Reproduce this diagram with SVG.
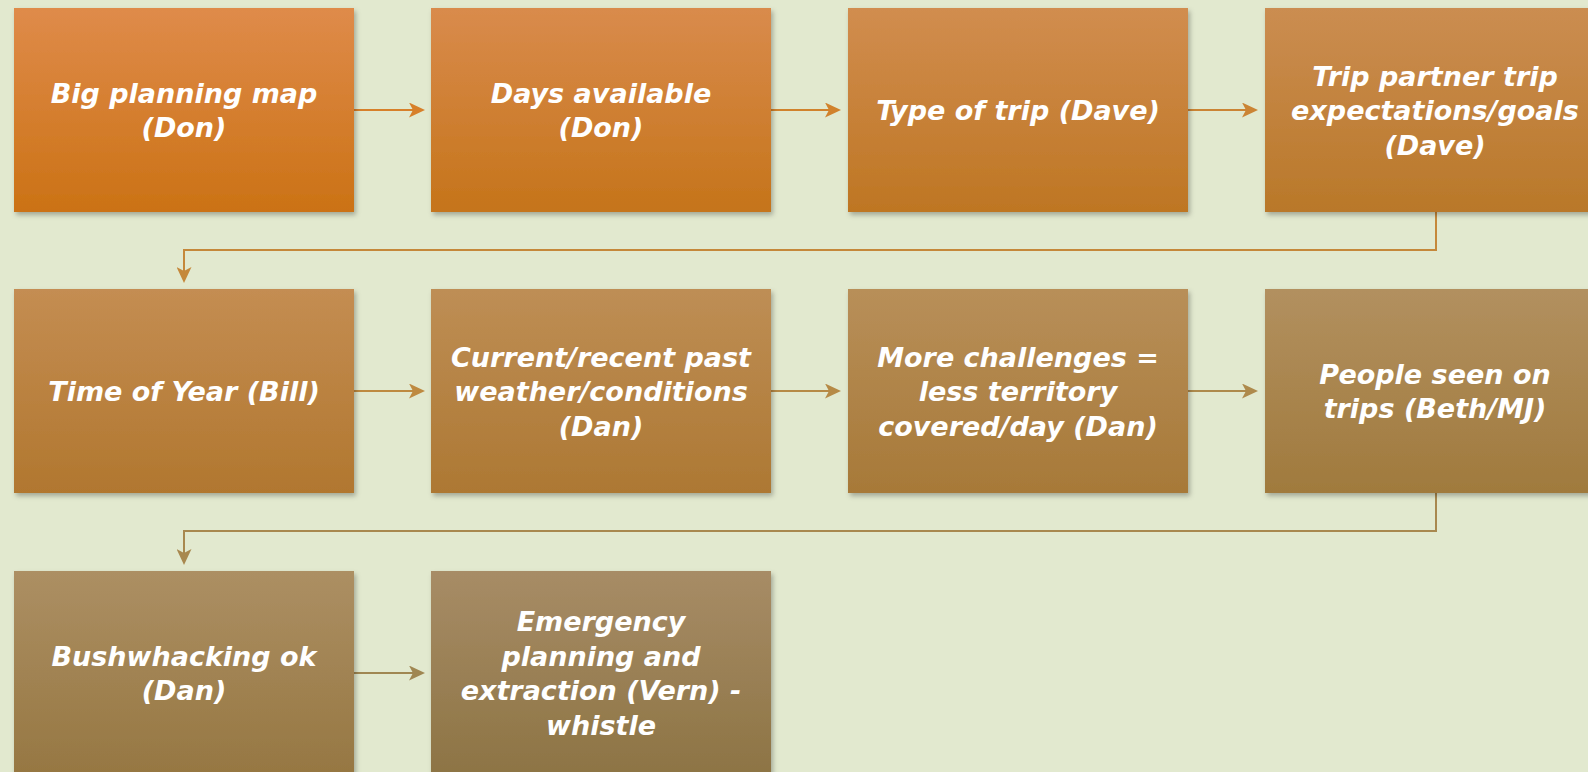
<svg xmlns="http://www.w3.org/2000/svg" width="1588" height="772" viewBox="0 0 1588 772">
<defs>
<style>
.box{filter:url(#sh)}
.t{font-family:"DejaVu Sans","Liberation Sans",sans-serif;font-weight:bold;font-style:italic;font-size:27px;fill:#ffffff;text-anchor:middle}
.c{fill:none;stroke-width:2}
</style>
<filter id="sh" x="-5%" y="-5%" width="112%" height="115%">
<feDropShadow dx="2" dy="3" stdDeviation="2.5" flood-color="#000" flood-opacity="0.28"/>
</filter>
<linearGradient id="g1" x1="0" y1="0" x2="0" y2="1"><stop offset="0" stop-color="#DF8B4A"/><stop offset="1" stop-color="#CB7215"/></linearGradient>
<linearGradient id="g2" x1="0" y1="0" x2="0" y2="1"><stop offset="0" stop-color="#D98B4C"/><stop offset="1" stop-color="#C5741A"/></linearGradient>
<linearGradient id="g3" x1="0" y1="0" x2="0" y2="1"><stop offset="0" stop-color="#D18D4F"/><stop offset="1" stop-color="#BE7623"/></linearGradient>
<linearGradient id="g4" x1="0" y1="0" x2="0" y2="1"><stop offset="0" stop-color="#CB8D51"/><stop offset="1" stop-color="#B97829"/></linearGradient>
<linearGradient id="g5" x1="0" y1="0" x2="0" y2="1"><stop offset="0" stop-color="#C48D52"/><stop offset="1" stop-color="#B1772F"/></linearGradient>
<linearGradient id="g6" x1="0" y1="0" x2="0" y2="1"><stop offset="0" stop-color="#BE8E55"/><stop offset="1" stop-color="#AD7833"/></linearGradient>
<linearGradient id="g7" x1="0" y1="0" x2="0" y2="1"><stop offset="0" stop-color="#B88F59"/><stop offset="1" stop-color="#A77938"/></linearGradient>
<linearGradient id="g8" x1="0" y1="0" x2="0" y2="1"><stop offset="0" stop-color="#B2905F"/><stop offset="1" stop-color="#A07A3D"/></linearGradient>
<linearGradient id="g9" x1="0" y1="0" x2="0" y2="1"><stop offset="0" stop-color="#AC8F63"/><stop offset="1" stop-color="#967742"/></linearGradient>
<linearGradient id="g10" x1="0" y1="0" x2="0" y2="1"><stop offset="0" stop-color="#A78C66"/><stop offset="1" stop-color="#8D7444"/></linearGradient>
<marker id="m1" markerUnits="userSpaceOnUse" markerWidth="16" markerHeight="15" refX="6" refY="7.5" orient="auto"><path d="M0,0 L16,7.5 L0,15 L4,7.5 Z" fill="#D7802A"/></marker>
<marker id="m2" markerUnits="userSpaceOnUse" markerWidth="16" markerHeight="15" refX="6" refY="7.5" orient="auto"><path d="M0,0 L16,7.5 L0,15 L4,7.5 Z" fill="#D1822C"/></marker>
<marker id="m3" markerUnits="userSpaceOnUse" markerWidth="16" markerHeight="15" refX="6" refY="7.5" orient="auto"><path d="M0,0 L16,7.5 L0,15 L4,7.5 Z" fill="#CB8434"/></marker>
<marker id="m4" markerUnits="userSpaceOnUse" markerWidth="16" markerHeight="15" refX="6" refY="7.5" orient="auto"><path d="M0,0 L16,7.5 L0,15 L4,7.5 Z" fill="#C5883A"/></marker>
<marker id="m5" markerUnits="userSpaceOnUse" markerWidth="16" markerHeight="15" refX="6" refY="7.5" orient="auto"><path d="M0,0 L16,7.5 L0,15 L4,7.5 Z" fill="#BE8A40"/></marker>
<marker id="m6" markerUnits="userSpaceOnUse" markerWidth="16" markerHeight="15" refX="6" refY="7.5" orient="auto"><path d="M0,0 L16,7.5 L0,15 L4,7.5 Z" fill="#B68A46"/></marker>
<marker id="m7" markerUnits="userSpaceOnUse" markerWidth="16" markerHeight="15" refX="6" refY="7.5" orient="auto"><path d="M0,0 L16,7.5 L0,15 L4,7.5 Z" fill="#AE8A4C"/></marker>
<marker id="m8" markerUnits="userSpaceOnUse" markerWidth="16" markerHeight="15" refX="6" refY="7.5" orient="auto"><path d="M0,0 L16,7.5 L0,15 L4,7.5 Z" fill="#A8884F"/></marker>
<marker id="m9" markerUnits="userSpaceOnUse" markerWidth="16" markerHeight="15" refX="6" refY="7.5" orient="auto"><path d="M0,0 L16,7.5 L0,15 L4,7.5 Z" fill="#A08752"/></marker>
</defs>
<rect x="0" y="0" width="1588" height="772" fill="#E2E9CF"/>
<g id="connectors">
<path class="c" stroke="#D7802A" marker-end="url(#m1)" d="M354,110 H415"/>
<path class="c" stroke="#D1822C" marker-end="url(#m2)" d="M771,110 H831"/>
<path class="c" stroke="#CB8434" marker-end="url(#m3)" d="M1188,110 H1248"/>
<path class="c" stroke="#C5883A" marker-end="url(#m4)" d="M1436,212 V250 H184 V273"/>
<path class="c" stroke="#BE8A40" marker-end="url(#m5)" d="M354,391 H415"/>
<path class="c" stroke="#B68A46" marker-end="url(#m6)" d="M771,391 H831"/>
<path class="c" stroke="#AE8A4C" marker-end="url(#m7)" d="M1188,391 H1248"/>
<path class="c" stroke="#A8884F" marker-end="url(#m8)" d="M1436,493 V531 H184 V555"/>
<path class="c" stroke="#A08752" marker-end="url(#m9)" d="M354,673 H415"/>
</g>
<g id="n1"><rect class="box" x="14" y="8" width="340" height="204" fill="url(#g1)"/><text class="t" x="184" y="102.5">Big planning map</text><text class="t" x="184" y="137">(Don)</text></g>
<g id="n2"><rect class="box" x="431" y="8" width="340" height="204" fill="url(#g2)"/><text class="t" x="601" y="102.5">Days available</text><text class="t" x="601" y="137">(Don)</text></g>
<g id="n3"><rect class="box" x="848" y="8" width="340" height="204" fill="url(#g3)"/><text class="t" x="1018" y="120">Type of trip (Dave)</text></g>
<g id="n4"><rect class="box" x="1265" y="8" width="340" height="204" fill="url(#g4)"/><text class="t" x="1435" y="85.5">Trip partner trip</text><text class="t" x="1435" y="120">expectations/goals</text><text class="t" x="1435" y="154.5">(Dave)</text></g>
<g id="n5"><rect class="box" x="14" y="289" width="340" height="204" fill="url(#g5)"/><text class="t" x="184" y="401">Time of Year (Bill)</text></g>
<g id="n6"><rect class="box" x="431" y="289" width="340" height="204" fill="url(#g6)"/><text class="t" x="601" y="366.5">Current/recent past</text><text class="t" x="601" y="401">weather/conditions</text><text class="t" x="601" y="435.5">(Dan)</text></g>
<g id="n7"><rect class="box" x="848" y="289" width="340" height="204" fill="url(#g7)"/><text class="t" x="1018" y="366.5">More challenges =</text><text class="t" x="1018" y="401">less territory</text><text class="t" x="1018" y="435.5">covered/day (Dan)</text></g>
<g id="n8"><rect class="box" x="1265" y="289" width="340" height="204" fill="url(#g8)"/><text class="t" x="1435" y="383.5">People seen on</text><text class="t" x="1435" y="418">trips (Beth/MJ)</text></g>
<g id="n9"><rect class="box" x="14" y="571" width="340" height="204" fill="url(#g9)"/><text class="t" x="184" y="665.5">Bushwhacking ok</text><text class="t" x="184" y="700">(Dan)</text></g>
<g id="n10"><rect class="box" x="431" y="571" width="340" height="204" fill="url(#g10)"/><text class="t" x="601" y="631">Emergency</text><text class="t" x="601" y="665.5">planning and</text><text class="t" x="601" y="700">extraction (Vern) -</text><text class="t" x="601" y="734.5">whistle</text></g>
</svg>
